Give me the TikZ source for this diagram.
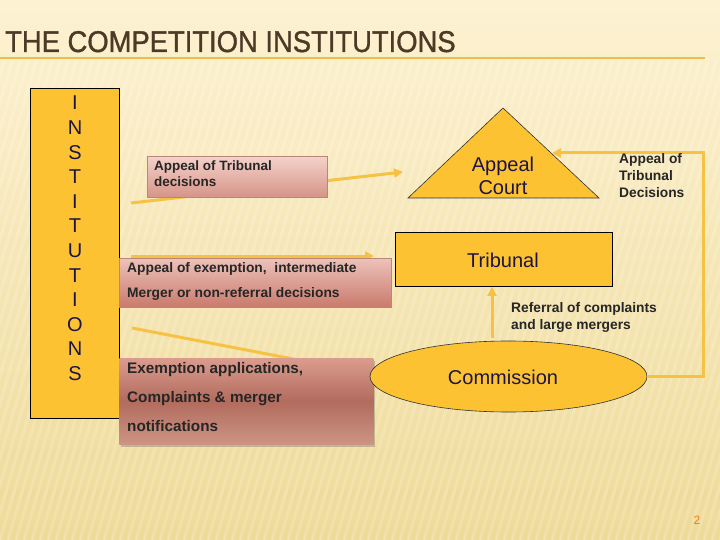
\documentclass[tikz,border=0pt]{standalone}
\usepackage{fontspec}
\setmainfont{Liberation Sans}
\usetikzlibrary{shadows,arrows.meta,shapes.geometric}
\definecolor{bgtop}{HTML}{FDF2D2}
\definecolor{bgbot}{HTML}{EEDA98}
\definecolor{gold}{HTML}{FDC232}
\definecolor{arrowc}{HTML}{F6C244}
\definecolor{titlec}{HTML}{4B3A26}
\definecolor{navy}{HTML}{1C1446}
\definecolor{rule}{HTML}{EEBE4C}
\definecolor{pinkA}{HTML}{F4D2CA}
\definecolor{pinkB}{HTML}{D69488}
\definecolor{pinkC}{HTML}{EDC2BA}
\definecolor{pinkD}{HTML}{C97A6C}
\definecolor{rosT}{HTML}{DA9C8E}
\definecolor{rosM}{HTML}{B26C5E}
\definecolor{rosB}{HTML}{CC9484}
\definecolor{boxline}{HTML}{B8867A}
\begin{document}
\begin{tikzpicture}[x=1pt,y=-1pt,
  instbox/.style={draw=black, line width=0.6pt, fill=gold, inner sep=0pt},
  conn/.style={draw=arrowc, line width=3pt, -{Triangle[length=9pt,width=9pt]}},
  plainconn/.style={draw=arrowc, line width=3pt},
  lbl/.style={font=\fontsize{20}{23}\selectfont, text=navy, align=center, inner sep=0pt},
  smalllbl/.style={font=\bfseries\fontsize{13.8}{17}\selectfont, text=black!85, align=left, inner sep=0pt, anchor=north west},
  pbox/.style={draw=boxline, line width=0.5pt, inner sep=0pt, anchor=north west}
]
\useasboundingbox (0,0) rectangle (720,540);
% background
\shade[top color=bgtop, bottom color=bgbot] (0,0) rectangle (720,540);
\begin{scope}
\clip (0,62) rectangle (720,540);
\foreach \i in {-200,-192,...,760}
  \draw[white, opacity=0.18, line width=3pt] (\i,540) -- (\i+140,62);
\end{scope}
% title
\node[anchor=base west, inner sep=0pt, text=titlec, font=\fontsize{30}{30}\selectfont\addfontfeature{FakeBold=1.2}] (title) at (5,52) {\scalebox{0.913}[1]{THE COMPETITION INSTITUTIONS}};
\draw[rule, line width=2pt] (0,58) -- (705,58);
% institutions column
\node[instbox, minimum width=89pt, minimum height=330pt] (inst) at (74.5,253) {};
\node[lbl, font=\fontsize{20}{24.6}\selectfont, anchor=north] (instT) at (75,96) {I\\N\\S\\T\\I\\T\\U\\T\\I\\O\\N\\S};
% connector endpoints
\coordinate (a1s) at (131,203);
\coordinate (a1e) at (403,172);
\coordinate (a2s) at (131,256);
\coordinate (a2e) at (374,256);
\coordinate (a3s) at (132,328);
\coordinate (a3e) at (366,373);
% connectors behind boxes
\draw[conn] (a1s) -- (a1e);
\draw[conn] (a2s) -- (a2e);
\draw[plainconn] (a3s) -- (a3e);
% appeal box
\node[pbox, top color=pinkA, bottom color=pinkB, minimum width=180pt, minimum height=41pt] (b1) at (147,156) {};
\node[smalllbl, font=\bfseries\fontsize{13.5}{16}\selectfont] (b1T) at (154,161) {Appeal of Tribunal\\decisions};
% appeal of exemption box
\node[pbox, top color=pinkC, bottom color=pinkD, minimum width=272pt, minimum height=49pt] (b2) at (119,258) {};
\node[smalllbl, font=\bfseries\fontsize{13.8}{25}\selectfont] (b2T) at (127,262) {Appeal of exemption,\ \ intermediate\\Merger or non-referral decisions};
% exemption applications box
\node[pbox, draw=none, top color=rosT, bottom color=rosB, middle color=rosM, minimum width=254pt, minimum height=86pt,
      drop shadow={shadow xshift=2pt, shadow yshift=-3pt, opacity=0.35, fill=black!60}] (b3) at (119,358) {};
\node[smalllbl, font=\bfseries\fontsize{15.3}{29}\selectfont] (b3T) at (127,362) {Exemption applications,\\Complaints \& merger\\notifications};
% Appeal court triangle
\draw[draw=black!80, line width=0.6pt, fill=gold] (503,108) coordinate (apex) -- (599,198) coordinate (acBR) -- (408,198) coordinate (acBL) -- cycle;
\node[lbl] (acT) at (503,176) {Appeal\\Court};
\coordinate (acR) at (552,153);
% Tribunal
\node[instbox, minimum width=217pt, minimum height=54pt] (trib) at (503.5,259.5) {};
\node[lbl] (tribT) at (503,260) {Tribunal};
% Commission
\node[draw=black!80, line width=0.6pt, fill=gold, ellipse, minimum width=277pt, minimum height=71pt, inner sep=0pt] (comm) at (508.5,376.5) {};
\node[lbl] (commT) at (503,377) {Commission};
% referral arrow
\coordinate (refS) at (492,338);
\draw[conn] (refS) -- (refS |- trib.south);
\node[smalllbl] (refT) at (511,302) {Referral of complaints\\and large mergers};
% appeal of tribunal decisions loop
\coordinate (loopA) at (703,376.5);
\coordinate (loopB) at (703,153);
\draw[draw=arrowc, line width=3pt, -{Triangle[length=9pt,width=9pt]}] (comm.east) -- (loopA) -- (loopB) -- (acR);
\node[smalllbl] (loopT) at (619,153) {Appeal of\\Tribunal\\Decisions};
% page number
\node[inner sep=0pt, text=orange!70!brown, font=\fontsize{12}{12}\selectfont] (pnum) at (697,520) {2};
\end{tikzpicture}
\end{document}
